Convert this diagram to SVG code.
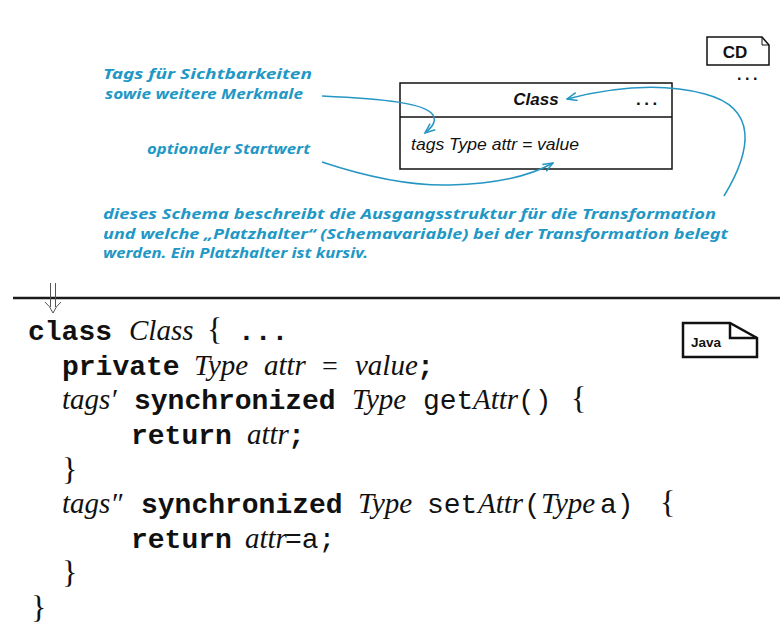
<svg xmlns="http://www.w3.org/2000/svg" width="780" height="627" viewBox="0 0 780 627">
<style>
.blue{font-family:"Comic Sans MS","Noto Sans",sans-serif;font-style:italic;font-weight:bold;font-size:14.2px;fill:#1f98c6}
.conn{fill:none;stroke:#2596c4;stroke-width:1.5}
.box{fill:#fff;stroke:#111;stroke-width:1.5}
.mb{font-family:"Liberation Mono",monospace;font-weight:bold;font-size:28px;fill:#111}
.mn{font-family:"Liberation Mono",monospace;font-size:28px;fill:#111}
.si{font-family:"Liberation Serif",serif;font-style:italic;font-size:29px;fill:#111}
.sr{font-family:"Liberation Serif",serif;font-size:28px;fill:#111}
.br{font-family:"Liberation Serif",serif;font-size:32px;fill:#111}
.uml{font-family:"Liberation Sans",sans-serif;fill:#111}
</style>
<defs>
<marker id="open" viewBox="0 0 12 10" refX="11" refY="5" markerWidth="12" markerHeight="10" markerUnits="userSpaceOnUse" orient="auto">
<path d="M1,1 L11,5 L1,9" fill="none" stroke="#2596c4" stroke-width="1.5"/>
</marker>
</defs>
<rect width="780" height="627" fill="#fff"/>

<g id="cd-note">
<path class="box" d="M707,37 L762,37 L769,45 L769,65 L707,65 Z"/>
<path d="M762,37 L762,45 L769,45" fill="none" stroke="#111" stroke-width="1"/>
<text class="uml" x="735" y="58" font-size="17" font-weight="bold" text-anchor="middle">CD</text>
<text class="uml" x="737" y="80" font-size="16" font-weight="bold" letter-spacing="3.5">...</text>
</g>

<g id="class-box">
<rect class="box" x="400" y="83" width="272" height="86"/>
<line x1="400" y1="117" x2="672" y2="117" stroke="#111" stroke-width="1.5"/>
<text class="uml" x="536" y="105" font-size="17" font-weight="bold" font-style="italic" text-anchor="middle">Class</text>
<text class="uml" x="636" y="105" font-size="17" font-weight="bold" letter-spacing="3.5">...</text>
<text class="uml" x="411" y="150" font-size="16.5" font-style="italic" textLength="168" lengthAdjust="spacingAndGlyphs">tags Type attr = value</text>
</g>

<g id="note-tags">
<text class="blue" x="103" y="79" textLength="209" lengthAdjust="spacingAndGlyphs">Tags für Sichtbarkeiten</text>
<text class="blue" x="105" y="98.5" textLength="198" lengthAdjust="spacingAndGlyphs">sowie weitere Merkmale</text>
</g>
<g id="note-start">
<text class="blue" x="147" y="154" textLength="163" lengthAdjust="spacingAndGlyphs">optionaler Startwert</text>
</g>
<g id="note-schema">
<text class="blue" x="103" y="219" textLength="613" lengthAdjust="spacingAndGlyphs">dieses Schema beschreibt die Ausgangsstruktur für die Transformation</text>
<text class="blue" x="103" y="238.5" textLength="625" lengthAdjust="spacingAndGlyphs">und welche „Platzhalter“ (Schemavariable) bei der Transformation belegt</text>
<text class="blue" x="103" y="258" textLength="265" lengthAdjust="spacingAndGlyphs">werden. Ein Platzhalter ist kursiv.</text>
</g>

<g id="connectors">
<path class="conn" marker-end="url(#open)" d="M322,96 C385,99 425,103 433,115 C437,122 431,128 425,133"/>
<path class="conn" marker-end="url(#open)" d="M322,162 C370,178 410,186 450,185 C495,184 530,176 553,163"/>
<path class="conn" marker-end="url(#open)" d="M724,196 C752,150 758,108 705,94 C660,82 610,88 567,99"/>
</g>

<g id="separator">
<line x1="13" y1="298" x2="780" y2="298" stroke="#1a1a1a" stroke-width="2.5"/>
<path d="M50.5,283 L50.5,307 M55.5,283 L55.5,307 M45,302 Q50,306 53,313 Q56,306 61,302" fill="none" stroke="#555" stroke-width="1"/>
</g>

<g id="java-note">
<path d="M683,323 L730,323 L757,338 L757,357 L683,357 Z" fill="#fff" stroke="#111" stroke-width="2.5" stroke-linejoin="miter"/>
<path d="M730,323 L730,338 L757,338" fill="none" stroke="#111" stroke-width="2.5"/>
<text class="uml" x="691" y="347" font-size="13.5" font-weight="bold" fill="#333">Java</text>
</g>

<g id="code">
<text y="340"><tspan class="mb" x="28">class</tspan><tspan class="si" x="129">Class</tspan><tspan class="br" x="207">{</tspan><tspan class="mb" x="238">...</tspan></text>
<text y="374.6"><tspan class="mb" x="62">private</tspan><tspan class="si" x="194">Type</tspan><tspan class="si" x="264">attr</tspan><tspan class="sr" x="322">=</tspan><tspan class="si" x="355">value</tspan><tspan class="mb" x="417">;</tspan></text>
<text y="409.2"><tspan class="si" x="62">tags′</tspan><tspan class="mb" x="134">synchronized</tspan><tspan class="si" x="352">Type</tspan><tspan class="mn" x="423">get</tspan><tspan class="si" x="473">Attr</tspan><tspan class="mn" x="518">()</tspan><tspan class="br" x="571">{</tspan></text>
<text y="443.8"><tspan class="mb" x="131">return</tspan><tspan class="si" x="247">attr</tspan><tspan class="mb" x="288">;</tspan></text>
<text class="br" x="62" y="480">}</text>
<text y="513"><tspan class="si" x="62">tags″</tspan><tspan class="mb" x="141">synchronized</tspan><tspan class="si" x="358">Type</tspan><tspan class="mn" x="427">set</tspan><tspan class="si" x="478">Attr</tspan><tspan class="mn" x="524">(</tspan><tspan class="si" x="541">Type</tspan><tspan class="mn" x="600">a)</tspan><tspan class="br" x="660">{</tspan></text>
<text y="547.6"><tspan class="mb" x="131">return</tspan><tspan class="si" x="245">attr</tspan><tspan class="mn" x="285">=a;</tspan></text>
<text class="br" x="62" y="583">}</text>
<text class="br" x="31" y="618">}</text>
</g>
</svg>
